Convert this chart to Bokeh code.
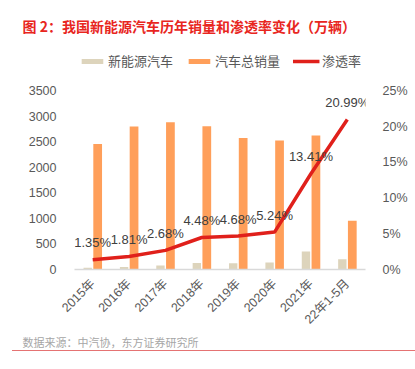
import math
from bokeh.plotting import figure
from bokeh.models import (Range1d, LinearAxis, FixedTicker, PrintfTickFormatter, Legend,
                          LegendItem, ColumnDataSource, Title, Div)
from bokeh.layouts import column
from bokeh.transform import dodge
from bokeh.embed import file_html
from bokeh.resources import INLINE
from bokeh.core.properties import value

categories = ["2015年", "2016年", "2017年", "2018年", "2019年", "2020年", "2021年", "22年1-5月"]
nev_sales = [33, 51, 77, 126, 121, 137, 352, 200]
total_sales = [2460, 2803, 2888, 2808, 2577, 2531, 2627, 956]
penetration = [1.35, 1.81, 2.68, 4.48, 4.68, 5.24, 13.41, 20.99]
pen_labels = ["1.35%", "1.81%", "2.68%", "4.48%", "4.68%", "5.24%", "13.41%", "20.99%"]
left_ticks = [0, 500, 1000, 1500, 2000, 2500, 3000, 3500]
right_ticks = [0, 5, 10, 15, 20, 25]

FONT = "Liberation Sans"
XFONT = "Liberation Sans, Noto Sans CJK SC"
CJK = "Noto Sans CJK SC"
BEIGE = "#ddd4bc"
ORANGE = "#ff9f5a"
RED = "#e0201b"
GRAY = "#595959"

# axis tops sit below the frame top so that the legend fits above them
AXIS_PX = 177.0
FRAME_PX = 230.0
left_end = left_ticks[-1] * FRAME_PX / AXIS_PX
right_end = right_ticks[-1] * FRAME_PX / AXIS_PX

idx = list(range(len(categories)))
src = ColumnDataSource(dict(x=idx, nev=nev_sales, total=total_sales, pen=penetration, lab=pen_labels))

p = figure(width=415, height=350, output_backend="svg", toolbar_location=None,
           x_range=Range1d(-0.5, len(categories) - 0.5), y_range=Range1d(0, left_end),
           min_border_left=74, min_border_right=50, min_border_top=37, min_border_bottom=10)
p.extra_y_ranges = {"pct": Range1d(0, right_end)}

p.title.text = "图 2：我国新能源汽车历年销量和渗透率变化（万辆）"
p.title.text_font = CJK
p.title.text_font_size = "14px"
p.title.text_font_style = "bold"
p.title.text_color = "#e8261e"
p.title.align = "left"
p.title.vertical_align = "top"
p.title.offset = -52
p.title.standoff = 0

r1 = p.vbar(x=dodge("x", -0.137, range=p.x_range), top="nev", width=0.23, source=src,
            fill_color=BEIGE, line_color=None)
r2 = p.vbar(x=dodge("x", 0.137, range=p.x_range), top="total", width=0.24, source=src,
            fill_color=ORANGE, line_color=None)
r3 = p.line(x="x", y="pen", source=src, y_range_name="pct", line_color=RED, line_width=3.5)
p.text(x="x", y="pen", text="lab", source=src, y_range_name="pct", y_offset=-17,
       text_align="center", text_baseline="middle", text_font=value(FONT),
       text_font_size="13px", text_color="#404040")

p.xgrid.visible = False
p.ygrid.visible = False
p.outline_line_color = None

ya = p.yaxis[0]
ya.ticker = FixedTicker(ticks=left_ticks)
ya.axis_line_color = None
ya.major_tick_line_color = None
ya.minor_tick_line_color = None
ya.major_label_standoff = 12
ya.major_label_text_font = FONT
ya.major_label_text_font_size = "12.5px"
ya.major_label_text_color = GRAY

ra = LinearAxis(y_range_name="pct", ticker=FixedTicker(ticks=right_ticks),
                formatter=PrintfTickFormatter(format="%d%%"))
ra.axis_line_color = None
ra.major_tick_line_color = None
ra.minor_tick_line_color = None
ra.major_label_standoff = 11
ra.major_label_text_font = FONT
ra.major_label_text_font_size = "12.5px"
ra.major_label_text_color = GRAY
p.add_layout(ra, "right")

xa = p.xaxis[0]
xa.ticker = FixedTicker(ticks=idx)
xa.major_label_overrides = {i: c for i, c in zip(idx, categories)}
xa.major_label_orientation = math.pi / 4
xa.axis_line_color = "#d9d9d9"
xa.axis_line_width = 1.5
xa.major_tick_line_color = None
xa.minor_tick_line_color = None
xa.major_label_standoff = 6
xa.major_label_text_font = XFONT
xa.major_label_text_font_size = "12.5px"
xa.major_label_text_color = GRAY

legend = Legend(items=[LegendItem(label="新能源汽车", renderers=[r1]),
                       LegendItem(label="汽车总销量", renderers=[r2]),
                       LegendItem(label="渗透率", renderers=[r3])],
                orientation="horizontal", location="top_center",
                glyph_width=27, glyph_height=6, label_standoff=3, spacing=12,
                padding=2, margin=14, border_line_color=None, background_fill_alpha=0,
                label_text_font=CJK, label_text_font_size="13px", label_text_color=GRAY)
p.add_layout(legend, "center")

src_title = Title(text="数据来源：中汽协，东方证券研究所", align="left", offset=-52,
                  vertical_align="top",
                  text_font=CJK, text_font_size="11px", text_font_style="normal",
                  text_color="#a6a6a6", standoff=-2)
p.add_layout(src_title, "below")

line_div = Div(text="", width=403, height=1, margin=(0, 0, 0, 12),
               styles={"background-color": "#e57373"})

open("out.html", "w").write(file_html(column(p, line_div), INLINE))
